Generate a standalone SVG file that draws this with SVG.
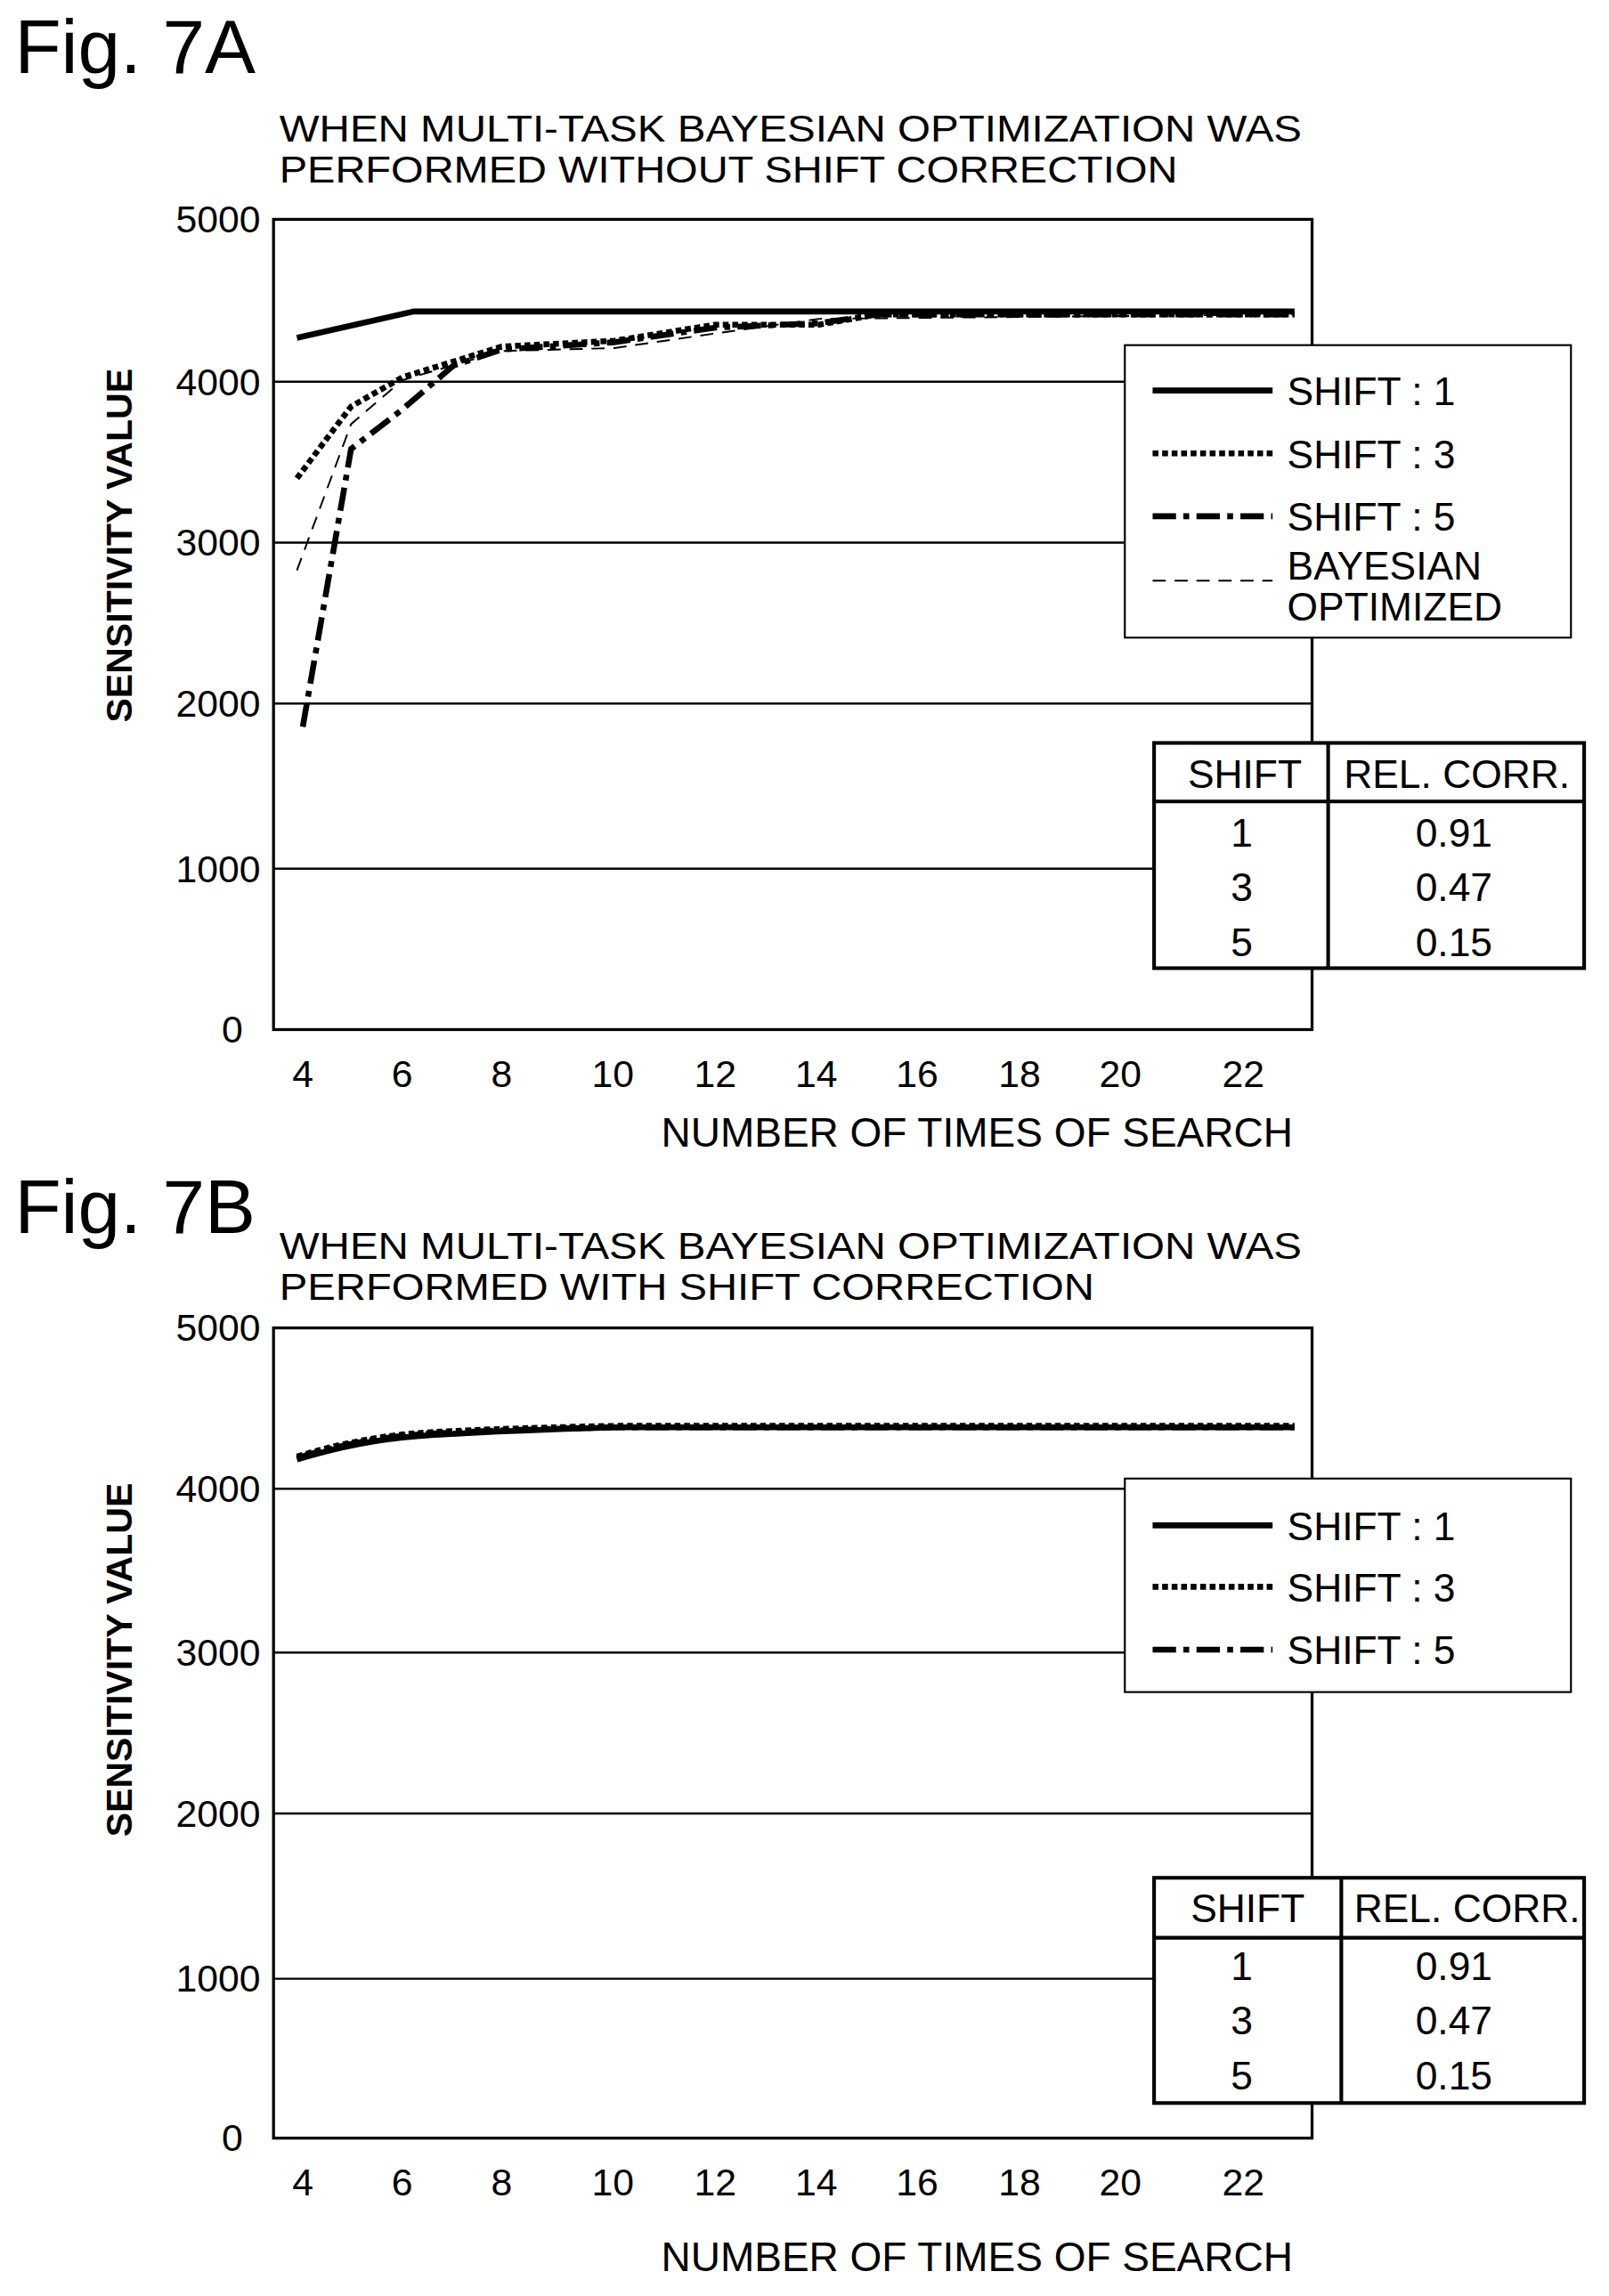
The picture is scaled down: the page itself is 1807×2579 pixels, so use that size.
<svg xmlns="http://www.w3.org/2000/svg" width="1807" height="2579" viewBox="0 0 1807 2579">
<style>
text{font-family:"Liberation Sans",Arial,sans-serif;fill:#000}
.fig{font-size:52px}
.sub{font-size:26px}
.yt{font-size:26px;text-anchor:end}
.xt{font-size:26px;text-anchor:middle}
.ax{font-size:28px}
.yax{font-size:25px;font-weight:bold;text-anchor:middle}
.leg{font-size:27px}
.mid{text-anchor:middle}
.frame{fill:#fff;stroke:#000;stroke-width:2}
.grid{stroke:#000;stroke-width:1.5}
.box{fill:#fff;stroke:#000;stroke-width:1.3}
.tb{fill:#fff;stroke:#000;stroke-width:2.5}
.s1{fill:none;stroke:#000;stroke-width:4}
.s3{fill:none;stroke:#000;stroke-width:4;stroke-dasharray:4 2.5}
.s5{fill:none;stroke:#000;stroke-width:4;stroke-dasharray:16 5 4 5}
.bo{fill:none;stroke:#000;stroke-width:1.2;stroke-dasharray:9 6}
</style>
<rect width="1807" height="2579" fill="#fff"/>
<g transform="scale(1.642727)">
<g id="figA">
<text class="fig" x="10" y="50">Fig. 7A</text>
<text class="sub" x="191" y="97" textLength="699" lengthAdjust="spacingAndGlyphs">WHEN MULTI-TASK BAYESIAN OPTIMIZATION WAS</text>
<text class="sub" x="191" y="125" textLength="614" lengthAdjust="spacingAndGlyphs">PERFORMED WITHOUT SHIFT CORRECTION</text>
<rect class="frame" x="187" y="150" width="710" height="554"/>
<g class="grid"><line x1="187" y1="261" x2="897" y2="261"/><line x1="187" y1="371" x2="897" y2="371"/><line x1="187" y1="481" x2="897" y2="481"/><line x1="187" y1="594" x2="897" y2="594"/></g>
<text class="yt" x="178" y="159">5000</text><text class="yt" x="178" y="270">4000</text><text class="yt" x="178" y="380">3000</text><text class="yt" x="178" y="490">2000</text><text class="yt" x="178" y="603">1000</text><text class="yt" x="166" y="713">0</text>
<text class="yax" transform="translate(90,373) rotate(-90)">SENSITIVITY VALUE</text>
<g><text class="xt" x="207" y="743">4</text><text class="xt" x="275" y="743">6</text><text class="xt" x="343" y="743">8</text><text class="xt" x="419" y="743">10</text><text class="xt" x="489" y="743">12</text><text class="xt" x="558" y="743">14</text><text class="xt" x="627" y="743">16</text><text class="xt" x="697" y="743">18</text><text class="xt" x="766" y="743">20</text><text class="xt" x="850" y="743">22</text></g>
<text class="ax" x="452" y="784">NUMBER OF TIMES OF SEARCH</text>
<g id="connectorsA">
<polyline class="bo" points="203,390 240,290 275,260 343,240 420,238 489,228 560,218 885,215"/>
<polyline class="s3" points="203,327 240,278 275,258 343,237 420,233 489,222 560,222 600,215 885,215"/>
<polyline class="s5" points="207,497 240,307 275,280 310,250 343,239 420,234 489,224 560,221 600,215 885,215"/>
<polyline class="s1" points="203,231 283,213 885,213"/>
</g>
<g id="legendA">
<rect class="box" x="769" y="236" width="305" height="200"/>
<line class="s1" x1="788" y1="267" x2="870" y2="267"/><text class="leg" x="880" y="277">SHIFT : 1</text>
<line class="s3" x1="788" y1="310" x2="870" y2="310"/><text class="leg" x="880" y="320">SHIFT : 3</text>
<line class="s5" x1="788" y1="353" x2="870" y2="353"/><text class="leg" x="880" y="363">SHIFT : 5</text>
<line class="bo" x1="788" y1="397" x2="870" y2="397"/><text class="leg" x="880" y="396">BAYESIAN</text><text class="leg" x="880" y="424">OPTIMIZED</text>
</g>
<g id="tableA">
<rect class="tb" x="789" y="508" width="294" height="154"/>
<line class="tb" x1="789" y1="548" x2="1083" y2="548"/><line class="tb" x1="908" y1="508" x2="908" y2="662"/>
<text class="leg mid" x="851" y="539">SHIFT</text><text class="leg mid" x="996" y="539">REL. CORR.</text>
<text class="leg mid" x="849" y="579">1</text><text class="leg mid" x="994" y="579">0.91</text>
<text class="leg mid" x="849" y="616">3</text><text class="leg mid" x="994" y="616">0.47</text>
<text class="leg mid" x="849" y="654">5</text><text class="leg mid" x="994" y="654">0.15</text>
</g>
</g>
<g id="figB">
<text class="fig" x="10" y="843">Fig. 7B</text>
<text class="sub" x="191" y="861" textLength="699" lengthAdjust="spacingAndGlyphs">WHEN MULTI-TASK BAYESIAN OPTIMIZATION WAS</text>
<text class="sub" x="191" y="889" textLength="557" lengthAdjust="spacingAndGlyphs">PERFORMED WITH SHIFT CORRECTION</text>
<rect class="frame" x="187" y="908" width="710" height="554"/>
<g class="grid"><line x1="187" y1="1018" x2="897" y2="1018"/><line x1="187" y1="1130" x2="897" y2="1130"/><line x1="187" y1="1240" x2="897" y2="1240"/><line x1="187" y1="1353" x2="897" y2="1353"/></g>
<text class="yt" x="178" y="917">5000</text><text class="yt" x="178" y="1027">4000</text><text class="yt" x="178" y="1139">3000</text><text class="yt" x="178" y="1249">2000</text><text class="yt" x="178" y="1362">1000</text><text class="yt" x="166" y="1471">0</text>
<text class="yax" transform="translate(90,1135) rotate(-90)">SENSITIVITY VALUE</text>
<g><text class="xt" x="207" y="1501">4</text><text class="xt" x="275" y="1501">6</text><text class="xt" x="343" y="1501">8</text><text class="xt" x="419" y="1501">10</text><text class="xt" x="489" y="1501">12</text><text class="xt" x="558" y="1501">14</text><text class="xt" x="627" y="1501">16</text><text class="xt" x="697" y="1501">18</text><text class="xt" x="766" y="1501">20</text><text class="xt" x="850" y="1501">22</text></g>
<text class="ax" x="452" y="1553">NUMBER OF TIMES OF SEARCH</text>
<g id="connectorsB">
<path class="s1" d="M203,998 Q245,985 285,982 T420,976 L885,976"/>
<path class="s3" d="M203,996 Q245,983 285,980 T420,975 L885,975"/>
<path class="s5" d="M203,997 Q245,984 285,981 T420,976 L885,976"/>
</g>
<g id="legendB">
<rect class="box" x="769" y="1011" width="305" height="146"/>
<line class="s1" x1="788" y1="1043" x2="870" y2="1043"/><text class="leg" x="880" y="1053">SHIFT : 1</text>
<line class="s3" x1="788" y1="1085" x2="870" y2="1085"/><text class="leg" x="880" y="1095">SHIFT : 3</text>
<line class="s5" x1="788" y1="1128" x2="870" y2="1128"/><text class="leg" x="880" y="1138">SHIFT : 5</text>
</g>
<g id="tableB">
<rect class="tb" x="789" y="1284" width="294" height="154"/>
<line class="tb" x1="789" y1="1325" x2="1083" y2="1325"/><line class="tb" x1="917" y1="1284" x2="917" y2="1438"/>
<text class="leg mid" x="853" y="1314">SHIFT</text><text class="leg mid" x="1003" y="1314">REL. CORR.</text>
<text class="leg mid" x="849" y="1354">1</text><text class="leg mid" x="994" y="1354">0.91</text>
<text class="leg mid" x="849" y="1391">3</text><text class="leg mid" x="994" y="1391">0.47</text>
<text class="leg mid" x="849" y="1429">5</text><text class="leg mid" x="994" y="1429">0.15</text>
</g>
</g>
</g>
</svg>
